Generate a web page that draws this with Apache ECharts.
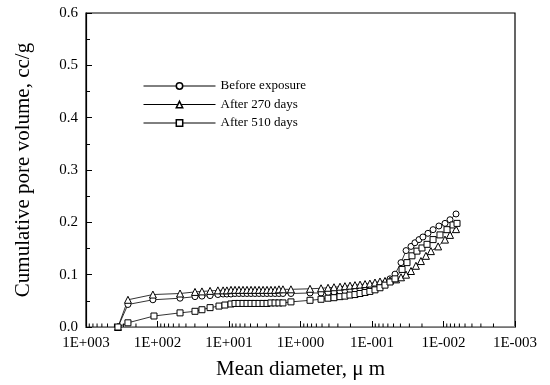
<!DOCTYPE html>
<html>
<head>
<meta charset="utf-8">
<script src="https://cdn.jsdelivr.net/npm/echarts@6/dist/echarts.min.js"></script>
<style>
html,body{margin:0;padding:0;background:#fff;}
#chart{width:550px;height:385px;}
</style>
</head>
<body>
<div id="chart"></div>
<script>
// ---- Data ----
const seriesNames = ['Before exposure', 'After 270 days', 'After 510 days'];

const beforeDiam = [357, 259, 116, 48.4, 29.9, 23.9, 18.4, 14.3, 12.1, 10.7,
  9.38, 8.24, 7.25, 6.37, 5.60, 4.92, 4.33, 3.80, 3.34, 2.94,
  2.59, 2.27, 2.00, 1.76, 1.36, 0.736, 0.516, 0.412, 0.340, 0.280,
  0.239, 0.203, 0.173, 0.147, 0.125, 0.107, 0.0908, 0.0773, 0.0658, 0.0560,
  0.0477, 0.0393, 0.0334, 0.0285, 0.0251, 0.0220, 0.0194, 0.0165, 0.0140, 0.0116,
  0.00953, 0.00811, 0.00668];
const beforeVol = [0, 0.043, 0.052, 0.055, 0.058, 0.059, 0.060, 0.062, 0.063, 0.063,
  0.063, 0.064, 0.064, 0.064, 0.064, 0.064, 0.064, 0.064, 0.064, 0.064,
  0.064, 0.064, 0.064, 0.064, 0.064, 0.065, 0.065, 0.066, 0.067, 0.068,
  0.069, 0.070, 0.071, 0.072, 0.073, 0.075, 0.077, 0.079, 0.082, 0.092,
  0.101, 0.123, 0.146, 0.154, 0.161, 0.167, 0.172, 0.179, 0.186, 0.193,
  0.198, 0.205, 0.216];

const after270Diam = [357, 259, 116, 48.4, 29.9, 23.9, 18.4, 14.3, 12.1, 10.7,
  9.38, 8.24, 7.25, 6.37, 5.60, 4.92, 4.33, 3.80, 3.34, 2.94,
  2.59, 2.27, 2.00, 1.76, 1.36, 0.736, 0.516, 0.412, 0.340, 0.280,
  0.239, 0.203, 0.173, 0.147, 0.125, 0.107, 0.0908, 0.0773, 0.0658, 0.0560,
  0.0461, 0.0393, 0.0334, 0.0285, 0.0243, 0.0207, 0.0176, 0.0150, 0.0119, 0.00953,
  0.00811, 0.00668];
const after270Vol = [0, 0.052, 0.062, 0.064, 0.067, 0.068, 0.069, 0.070, 0.070, 0.070,
  0.071, 0.071, 0.071, 0.071, 0.071, 0.071, 0.071, 0.071, 0.071, 0.071,
  0.071, 0.071, 0.072, 0.072, 0.072, 0.073, 0.074, 0.075, 0.076, 0.077,
  0.078, 0.079, 0.080, 0.081, 0.082, 0.083, 0.085, 0.087, 0.088, 0.089,
  0.091, 0.095, 0.100, 0.107, 0.117, 0.126, 0.136, 0.145, 0.154, 0.167,
  0.176, 0.187];

const after510Diam = [357, 259, 112, 48.4, 29.9, 23.9, 18.4, 13.8, 11.4, 9.38,
  8.24, 7.25, 6.37, 5.60, 4.92, 4.33, 3.80, 3.34, 2.94, 2.59,
  2.27, 2.00, 1.76, 1.36, 0.736, 0.516, 0.412, 0.340, 0.280, 0.239,
  0.203, 0.173, 0.147, 0.125, 0.107, 0.0908, 0.0773, 0.0658, 0.0560, 0.0477,
  0.0380, 0.0324, 0.0276, 0.0235, 0.0200, 0.0170, 0.0140, 0.0112, 0.00893, 0.00736,
  0.00647];
const after510Vol = [0, 0.008, 0.021, 0.027, 0.030, 0.033, 0.037, 0.040, 0.042, 0.044,
  0.045, 0.045, 0.045, 0.045, 0.045, 0.045, 0.045, 0.045, 0.045, 0.046,
  0.046, 0.046, 0.046, 0.048, 0.051, 0.053, 0.055, 0.056, 0.058, 0.059,
  0.061, 0.062, 0.064, 0.066, 0.068, 0.071, 0.075, 0.080, 0.086, 0.092,
  0.110, 0.123, 0.136, 0.145, 0.151, 0.158, 0.167, 0.176, 0.186, 0.195,
  0.198];

// ---- Axis ticks ----
const xDecades = [1000, 100, 10, 1, 0.1, 0.01, 0.001];
const xTickLabels = ['1E+003', '1E+002', '1E+001', '1E+000', '1E-001', '1E-002', '1E-003'];
const xMinorMultipliers = [0.2, 0.3, 0.4, 0.5, 0.6, 0.7, 0.8, 0.9];
const yTicks = [0, 0.1, 0.2, 0.3, 0.4, 0.5, 0.6];

// ---- Build ----
const FONT = "'Liberation Serif', 'Times New Roman', serif";
function pairs(xs, ys) { return xs.map((x, i) => [x, ys[i]]); }
const minorData = [];
xDecades.slice(0, -1).forEach(d => xMinorMultipliers.forEach(m => minorData.push([d * m, 0])));

function xLabel(v) {
  const e = Math.round(Math.log10(v));
  const idx = xDecades.findIndex(d => Math.round(Math.log10(d)) === e);
  return idx >= 0 ? xTickLabels[idx] : '';
}

const lineCommon = {
  type: 'line',
  xAxisIndex: 0, yAxisIndex: 0,
  lineStyle: { color: '#000', width: 0.8 },
  itemStyle: { color: '#fff', borderColor: '#000', borderWidth: 1 },
  showSymbol: true,
  z: 3
};

const chart = echarts.init(document.getElementById('chart'), null, { renderer: 'canvas' });
chart.setOption({
  animation: false,
  backgroundColor: '#fff',
  textStyle: { fontFamily: FONT, color: '#000' },
  grid: { left: 86, right: 35, top: 13, bottom: 53, show: true, borderColor: '#000', borderWidth: 1.2, backgroundColor: 'transparent' },
  legend: {
    orient: 'vertical', left: 143, top: 79, padding: 0,
    itemWidth: 72, itemHeight: 8, itemGap: 4.5,
    data: seriesNames,
    lineStyle: { width: 1, color: '#000' },
    itemStyle: { color: '#fff', borderColor: '#000', borderWidth: 1.5 },
    textStyle: { fontFamily: FONT, fontSize: 13, color: '#000', lineHeight: 14 }
  },
  xAxis: [{
    type: 'log', logBase: 10, min: 0.001, max: 1000, inverse: true,
    name: 'Mean diameter, \u03bc m', nameLocation: 'middle', nameGap: 32,
    nameTextStyle: { fontFamily: FONT, fontSize: 21, color: '#000' },
    axisLine: { show: true, onZero: false, lineStyle: { color: '#000', width: 1.2 } },
    axisTick: { show: true, inside: true, length: 6, lineStyle: { color: '#000' } },
    minorTick: { show: false },
    splitLine: { show: false },
    axisLabel: { fontFamily: FONT, fontSize: 15, color: '#000', margin: 9, formatter: xLabel, showMinLabel: true, showMaxLabel: true }
  }, {
    type: 'log', logBase: 10, min: 0.001, max: 1000, inverse: true, position: 'top',
    axisLine: { show: true, lineStyle: { color: '#999', width: 1.5 } },
    axisTick: { show: false }, axisLabel: { show: false }, splitLine: { show: false }
  }],
  yAxis: [{
    type: 'value', min: 0, max: 0.6, interval: 0.1,
    name: 'Cumulative pore volume, cc/g', nameLocation: 'middle', nameGap: 52,
    nameTextStyle: { fontFamily: FONT, fontSize: 21, color: '#000' },
    axisLine: { show: true, lineStyle: { color: '#000', width: 1.2 } },
    axisTick: { show: true, inside: true, length: 6, lineStyle: { color: '#000' } },
    minorTick: { show: true, splitNumber: 2, length: 4, lineStyle: { color: '#000' } },
    splitLine: { show: false },
    axisLabel: { fontFamily: FONT, fontSize: 15, color: '#000', margin: 8,
      formatter: v => { const t = yTicks.find(y => Math.abs(y - v) < 1e-9); return (t !== undefined ? t : v).toFixed(1); } }
  }],
  series: [
    Object.assign({}, lineCommon, { name: seriesNames[0], symbol: 'circle', symbolSize: 6, data: pairs(beforeDiam, beforeVol) }),
    Object.assign({}, lineCommon, { name: seriesNames[1], symbol: 'triangle', symbolSize: 7, data: pairs(after270Diam, after270Vol) }),
    Object.assign({}, lineCommon, { name: seriesNames[2], symbol: 'rect', symbolSize: 6, data: pairs(after510Diam, after510Vol) }),
    {
      type: 'custom', name: 'minorTicks', silent: true, xAxisIndex: 0, yAxisIndex: 0,
      data: minorData, encode: { x: 0, y: 1 }, clip: false, z: 2,
      renderItem: function (params, api) {
        const p = api.coord([api.value(0), api.value(1)]);
        return { type: 'line', shape: { x1: p[0], y1: p[1], x2: p[0], y2: p[1] - 3.5 }, style: { stroke: '#000', lineWidth: 1 } };
      }
    }
  ]
});
</script>
</body>
</html>
